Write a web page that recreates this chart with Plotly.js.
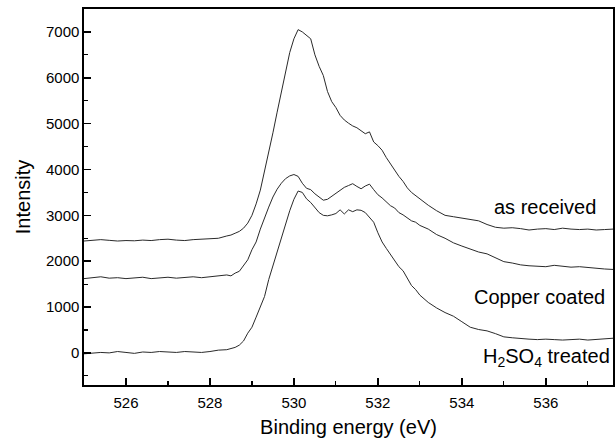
<!DOCTYPE html>
<html>
<head>
<meta charset="utf-8">
<script src="https://cdn.plot.ly/plotly-3.0.1.min.js"></script>
<style>html,body{margin:0;padding:0;background:#fff;}#chart{width:616px;height:446px;}</style>
</head>
<body>
<div id="chart"></div>
<script>
// Binding energy (eV)
const energy = [
  525.0, 525.2, 525.4, 525.6, 525.8, 526.0, 526.2, 526.4, 526.6, 526.8,
  527.0, 527.2, 527.4, 527.6, 527.8, 528.0, 528.2, 528.4,
  528.5, 528.6, 528.7, 528.8, 528.9, 529.0, 529.1, 529.2, 529.3, 529.4,
  529.5, 529.6, 529.7, 529.8, 529.9, 530.0, 530.1, 530.2, 530.3, 530.4,
  530.5, 530.6, 530.7, 530.8, 530.9, 531.0, 531.1, 531.2, 531.3, 531.4,
  531.5, 531.6, 531.7, 531.8, 531.9, 532.0, 532.1, 532.2, 532.3, 532.4,
  532.5, 532.6, 532.7, 532.8, 532.9, 533.0,
  533.2, 533.4, 533.6, 533.8, 534.0, 534.2, 534.4, 534.6, 534.8, 535.0,
  535.2, 535.4, 535.6, 535.8, 536.0, 536.2, 536.4, 536.6, 536.8, 537.0,
  537.2, 537.4, 537.6
];

const asReceived = [
  2440, 2450, 2470, 2455, 2440, 2450, 2445, 2460, 2450, 2470,
  2480, 2460, 2450, 2470, 2480, 2475, 2500, 2550,
  2570, 2610, 2650, 2720, 2830, 3000, 3250, 3550, 3950, 4350,
  4800, 5250, 5700, 6150, 6550, 6850, 7050, 7000, 6920, 6850,
  6500, 6250, 6050, 5700, 5480, 5350, 5180, 5080, 5010, 4950,
  4910, 4840, 4780, 4820, 4600, 4520, 4420, 4260, 4120, 3980,
  3850, 3740, 3600, 3500, 3430, 3360,
  3220, 3100, 3000, 2970, 2940, 2910, 2880, 2800, 2740, 2720,
  2730, 2710, 2680, 2700, 2710, 2690, 2720, 2700, 2690, 2700,
  2680, 2690, 2700
];

const copperCoated = [
  1620, 1640, 1660, 1630, 1640, 1620, 1640, 1650, 1620, 1640,
  1650, 1630, 1650, 1660, 1640, 1660, 1690, 1700,
  1680, 1740, 1780, 1900, 2030, 2250, 2420, 2700, 2950, 3180,
  3400, 3570, 3700, 3800, 3860, 3890, 3850, 3700, 3590, 3560,
  3470, 3400, 3330, 3350, 3420, 3490, 3550, 3610, 3650, 3690,
  3630, 3580, 3640, 3680, 3560, 3450, 3380, 3290, 3210, 3160,
  3060, 3010, 2940, 2880, 2850, 2780,
  2700, 2580, 2500, 2400, 2330, 2270, 2200, 2160, 2080, 1990,
  1960, 1920, 1900, 1890, 1880, 1910, 1890, 1870, 1880, 1860,
  1850, 1830, 1820
];

const h2so4Treated = [
  -20, -10, 10, 0, 30, 10, -10, 20, 10, 30,
  20, 10, 30, 20, 10, 30, 60, 70,
  90, 120, 170, 260, 430, 560, 780, 1000, 1230, 1600,
  1900, 2250, 2550, 2800, 3100, 3350, 3530, 3500, 3360, 3280,
  3160, 3060, 3000, 2990, 3010, 3040, 3120, 3030, 3120, 3080,
  3120, 3110, 3060, 2960, 2850, 2620, 2420, 2280, 2150, 2020,
  1880, 1790, 1620, 1470, 1380, 1260,
  1100, 980, 880, 800, 680, 560, 510, 480, 420, 350,
  330, 310, 300, 290, 300, 290, 280, 290, 300, 280,
  290, 300, 320
];

const seriesNames = ["as received", "Copper coated", "H<sub>2</sub>SO<sub>4</sub> treated"];
const labelX = [537.25, 537.45, 537.58];
const labelY = [3185, 1225, -110];

const xTicks = [526, 528, 530, 532, 534, 536];
const yTicks = [0, 1000, 2000, 3000, 4000, 5000, 6000, 7000];
const xRange = [525, 537.6];
const yRange = [-700, 7500];

const FONT = "Liberation Sans, Arial, Helvetica, sans-serif";
const lineStyle = {color: "#2a2a2a", width: 1};

const data = [asReceived, copperCoated, h2so4Treated].map((ys, i) => ({
  x: energy, y: ys, type: "scatter", mode: "lines",
  name: seriesNames[i], line: lineStyle, hoverinfo: "skip"
}));
// empty helper trace so the overlaid tick-only axis is drawn
data.push({x: [], y: [], xaxis: "x2", yaxis: "y", type: "scatter", mode: "lines", hoverinfo: "skip"});

const layout = {
  width: 616, height: 446,
  margin: {l: 84, r: 3, t: 9, b: 61, pad: 0},
  paper_bgcolor: "#fff", plot_bgcolor: "#fff",
  showlegend: false,
  font: {family: FONT, color: "#000"},
  xaxis: {
    range: xRange,
    tickvals: xTicks, ticktext: xTicks.map(String),
    ticks: "outside", ticklen: 3, tickwidth: 1, tickcolor: "rgba(0,0,0,0)",
    showline: true, linecolor: "#000", linewidth: 1.6, mirror: true,
    showgrid: false, zeroline: false,
    tickfont: {size: 15, family: FONT, color: "#000"},
    title: {text: "Binding energy (eV)", font: {size: 20, family: FONT, color: "#000"}, standoff: 10}
  },
  xaxis2: {
    overlaying: "x", side: "bottom", anchor: "y",
    range: xRange,
    tickvals: xTicks, showticklabels: false,
    ticks: "inside", ticklen: 7, tickwidth: 1.5, tickcolor: "#000",
    minor: {dtick: 1, tick0: 525, ticks: "inside", ticklen: 4, tickwidth: 1.2, tickcolor: "#000"},
    showline: false, showgrid: false, zeroline: false
  },
  yaxis: {
    range: yRange,
    tickvals: yTicks, ticktext: yTicks.map(String),
    ticks: "inside", ticklen: 7, tickwidth: 1.5, tickcolor: "#000",
    minor: {dtick: 500, tick0: 0, ticks: "inside", ticklen: 4, tickwidth: 1.2, tickcolor: "#000"},
    showline: true, linecolor: "#000", linewidth: 1.6, mirror: true,
    showgrid: false, zeroline: false,
    tickfont: {size: 15, family: FONT, color: "#000"},
    title: {text: "Intensity", font: {size: 20, family: FONT, color: "#000"}, standoff: 10}
  },
  annotations: seriesNames.map((t, i) => ({
    text: t, x: labelX[i], y: labelY[i], xref: "x", yref: "y",
    xanchor: "right", yanchor: "middle", showarrow: false,
    font: {size: 20, family: FONT, color: "#000"}
  }))
};

Plotly.newPlot("chart", data, layout, {staticPlot: true, displayModeBar: false});
</script>
</body>
</html>
